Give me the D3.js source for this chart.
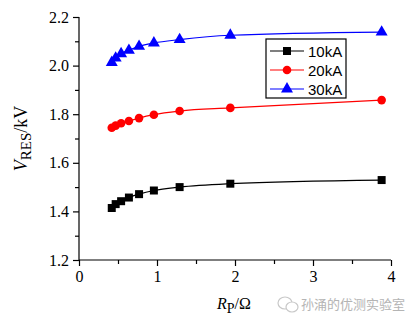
<!DOCTYPE html>
<html>
<head>
<meta charset="utf-8">
<script src="https://cdn.jsdelivr.net/npm/d3@7"></script>
<style>
  body { margin: 0; background: #fff; }
  svg { display: block; }
</style>
</head>
<body>
<div id="wrapper"></div>
<script>
const rpValues = [0.42, 0.47, 0.54, 0.64, 0.77, 0.96, 1.29, 1.94, 3.88];
const v10kA = [1.414, 1.430, 1.442, 1.457, 1.471, 1.486, 1.500, 1.514, 1.529];
const v20kA = [1.744, 1.753, 1.763, 1.772, 1.784, 1.798, 1.813, 1.826, 1.858];
const v30kA = [2.013, 2.031, 2.049, 2.063, 2.079, 2.093, 2.107, 2.125, 2.138];
const seriesNames = ["10kA", "20kA", "30kA"];
const xTicks = [0, 1, 2, 3, 4];
const yTicks = [1.2, 1.4, 1.6, 1.8, 2.0, 2.2];

const series = [
  { name: seriesNames[0], values: v10kA, color: "#000000", symbol: d3.symbolSquare, size: 64 },
  { name: seriesNames[1], values: v20kA, color: "#ff0000", symbol: d3.symbolCircle, size: 58 },
  { name: seriesNames[2], values: v30kA, color: "#0000ff", symbol: d3.symbolTriangle, size: 62 },
];

const dimensions = {
  width: 416,
  height: 322,
  margin: { top: 17, right: 25, bottom: 62, left: 79 },
};
dimensions.boundedWidth = dimensions.width - dimensions.margin.left - dimensions.margin.right;
dimensions.boundedHeight = dimensions.height - dimensions.margin.top - dimensions.margin.bottom;

const wrapper = d3.select("#wrapper")
  .append("svg")
  .attr("width", dimensions.width)
  .attr("height", dimensions.height);

const bounds = wrapper.append("g")
  .attr("transform", `translate(${dimensions.margin.left},${dimensions.margin.top})`);

const xScale = d3.scaleLinear().domain([0, 4]).range([0, 312]);
const yScale = d3.scaleLinear().domain([1.2, 2.2]).range([dimensions.boundedHeight + 0, 0]);

const serif = "'Liberation Serif', 'Times New Roman', serif";

// lines and markers
const lineGenerator = d3.line()
  .x((d, i) => xScale(rpValues[i]))
  .y((d) => yScale(d))
  .curve(d3.curveMonotoneX);

series.forEach((s) => {
  bounds.append("path")
    .attr("d", lineGenerator(s.values))
    .attr("fill", "none")
    .attr("stroke", s.color)
    .attr("stroke-width", 1.2);

  bounds.selectAll(null)
    .data(s.values)
    .join("path")
    .attr("transform", (d, i) => `translate(${xScale(rpValues[i])},${yScale(d)})`)
    .attr("d", d3.symbol().type(s.symbol).size(s.size))
    .attr("fill", s.color);
});

// y axis
const yMinor = bounds.append("g")
  .call(d3.axisLeft(yScale).ticks(10).tickValues(d3.range(1.3, 2.2, 0.2)).tickSize(4).tickFormat(""));
yMinor.select(".domain").remove();

const yAxis = bounds.append("g")
  .call(d3.axisLeft(yScale).tickValues(yTicks).tickSize(6).tickPadding(4).tickFormat(d3.format(".1f")));

// x axis
const xMinor = bounds.append("g")
  .attr("transform", `translate(0,${dimensions.boundedHeight})`)
  .call(d3.axisBottom(xScale).tickValues([0.5, 1.5, 2.5, 3.5]).tickSize(4).tickFormat(""));
xMinor.select(".domain").remove();

const xAxis = bounds.append("g")
  .attr("transform", `translate(0,${dimensions.boundedHeight})`)
  .call(d3.axisBottom(xScale).tickValues(xTicks).tickSize(6).tickPadding(5).tickFormat(d3.format("d")));

[yMinor, yAxis, xMinor, xAxis].forEach((ax) => {
  ax.selectAll("path, line").attr("stroke", "#000").attr("stroke-width", 1.2);
  ax.selectAll("text").attr("font-family", serif).attr("font-size", 16).attr("fill", "#000");
});
yAxis.select(".domain").attr("d", `M0,${dimensions.boundedHeight}V0`);
xAxis.select(".domain").attr("d", `M0,0H312`);

// axis titles
const yTitle = wrapper.append("text")
  .attr("transform", `translate(27,${dimensions.margin.top + dimensions.boundedHeight / 2}) rotate(-90)`)
  .attr("text-anchor", "middle")
  .attr("font-family", serif)
  .attr("font-size", 18);
yTitle.append("tspan").attr("font-style", "italic").text("V");
yTitle.append("tspan").attr("font-size", 15).attr("dy", 4).text("RES");
yTitle.append("tspan").attr("dy", -4).text("/kV");

const xTitle = wrapper.append("text")
  .attr("x", 234)
  .attr("y", 309)
  .attr("text-anchor", "middle")
  .attr("font-family", serif)
  .attr("font-size", 16);
xTitle.append("tspan").attr("font-style", "italic").text("R");
xTitle.append("tspan").attr("font-size", 14).attr("dy", 4).text("P");
xTitle.append("tspan").attr("dy", -4).text("/Ω");

// legend
const legend = wrapper.append("g").attr("transform", "translate(266,39)");
legend.append("rect")
  .attr("width", 80)
  .attr("height", 59)
  .attr("fill", "#fff")
  .attr("stroke", "#000")
  .attr("stroke-width", 1.2);

series.forEach((s, i) => {
  const row = legend.append("g").attr("transform", `translate(0,${12 + i * 19})`);
  row.append("line")
    .attr("x1", 4).attr("x2", 38)
    .attr("stroke", s.color).attr("stroke-width", 1.2);
  row.append("path")
    .attr("transform", "translate(21,0)")
    .attr("d", d3.symbol().type(s.symbol).size(s.size))
    .attr("fill", s.color);
  row.append("text")
    .attr("x", 42)
    .attr("y", 5.5)
    .attr("font-family", "'Liberation Sans', Arial, sans-serif")
    .attr("font-size", 15)
    .text(s.name);
});

// watermark
const mark = wrapper.append("g").attr("transform", "translate(285,304)");
mark.append("ellipse").attr("cx", 0).attr("cy", -1).attr("rx", 7).attr("ry", 6)
  .attr("fill", "none").attr("stroke", "#c8c8c8").attr("stroke-width", 1.2);
mark.append("ellipse").attr("cx", 7).attr("cy", 3).attr("rx", 6).attr("ry", 5)
  .attr("fill", "#fff").attr("stroke", "#c8c8c8").attr("stroke-width", 1.2);
mark.append("text")
  .attr("x", 16)
  .attr("y", 5)
  .attr("font-family", "'Noto Sans CJK SC', sans-serif")
  .attr("font-size", 13)
  .attr("fill", "#b4b4b4")
  .text("孙涌的优测实验室");
</script>
</body>
</html>
